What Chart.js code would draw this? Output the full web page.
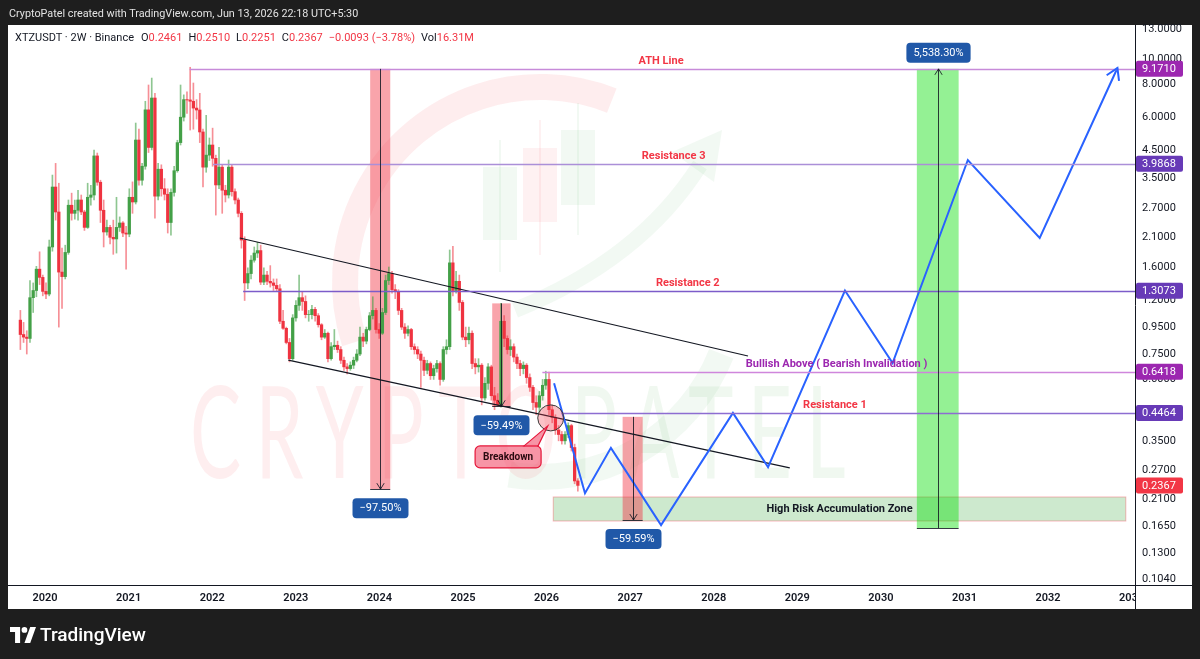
<!DOCTYPE html>
<html>
<head>
<meta charset="utf-8">
<script src="https://cdn.jsdelivr.net/npm/chart.js@4.4.1/dist/chart.umd.min.js"></script>
<style>
  html, body { margin: 0; padding: 0; background: #1e1e1e; }
  #wrap { position: relative; width: 1200px; height: 659px; overflow: hidden; font-family: Roboto, "Noto Sans", sans-serif; }
  #panel { position: absolute; left: 8px; top: 25px; width: 1184px; height: 584px; background: #fff; }
  #chart { position: absolute; left: 0; top: 0; }
  #credit { position: absolute; left: 9px; top: 7px; color: #e3e3e3; font-size: 10.8px; }
  #legend { position: absolute; left: 15px; top: 31px; font-size: 11px; color: #131722; white-space: nowrap; }
  #legend .v { color: #f23645; }
  #legend .g { margin-left: 6px; }
  #brand { position: absolute; left: 10px; top: 623px; color: #fff; font-size: 19px; font-weight: 500; display: flex; align-items: center; }
  #brand svg { margin-right: 4px; }
</style>
</head>
<body>
<div id="wrap">
  <div id="panel"></div>
  <canvas id="chart" width="1200" height="659"></canvas>
  <div id="credit">CryptoPatel created with TradingView.com, Jun 13, 2026 22:18 UTC+5:30</div>
  <div id="legend">XTZUSDT · 2W · Binance<span class="g" style="margin-left:7px">O<span class="v">0.2461</span></span><span class="g">H<span class="v">0.2510</span></span><span class="g">L<span class="v">0.2251</span></span><span class="g">C<span class="v">0.2367</span></span><span class="g v">−0.0093 (−3.78%)</span><span class="g">Vol<span class="v">16.31M</span></span></div>
  <div id="brand"><svg width="26" height="16" viewBox="0 0 36 22"><path d="M14 22H7V7H0V0h14v22zM28 22h-8L28 0h8L28 22z" fill="#fff"/><circle cx="20" cy="4" r="4" fill="#fff"/></svg>TradingView</div>
</div>
<script>
// XTZUSDT 2W candles (first bar ~ Sep 2019)
const firstOpen = 1.01;
const closes = [0.89,0.87,0.86,1.23,1.31,1.58,1.47,1.30,1.27,1.92,
  3.25,2.61,1.54,1.48,1.83,2.77,2.58,2.65,2.90,2.61,
  2.28,2.97,3.03,4.27,3.39,2.65,2.19,2.28,2.09,2.06,
  2.28,2.37,2.17,2.15,2.97,2.85,4.91,3.45,3.90,6.40,
  4.60,7.10,3.00,3.80,3.20,3.05,2.38,3.10,3.75,4.80,
  6.00,7.00,6.98,6.90,6.50,6.39,5.27,3.87,4.30,4.70,
  4.18,3.31,3.87,3.16,3.03,3.87,3.12,2.90,2.58,2.04,
  1.40,1.52,1.71,1.82,1.86,1.41,1.50,1.42,1.40,1.37,
  1.33,1.00,0.94,0.83,0.72,1.03,1.15,1.23,1.19,1.06,
  1.06,1.11,1.05,0.97,0.87,0.90,0.72,0.80,0.81,0.78,
  0.71,0.67,0.66,0.68,0.71,0.75,0.87,0.84,0.93,1.05,
  1.10,0.93,0.90,1.08,1.43,1.52,1.32,1.30,1.10,0.95,
  0.90,0.93,0.80,0.78,0.75,0.71,0.65,0.69,0.62,0.66,
  0.69,0.60,0.78,0.80,1.67,1.31,1.42,1.18,0.87,0.85,
  0.90,0.69,0.67,0.68,0.51,0.58,0.67,0.52,0.50,0.48,
  1.00,0.86,0.78,0.80,0.73,0.69,0.66,0.68,0.61,0.56,
  0.49,0.47,0.52,0.57,0.60,0.46,0.43,0.385,0.37,0.35,
  0.37,0.40,0.33,0.2461,0.2367];
const highs = [1.10,0.99,0.92,1.43,1.40,1.62,1.84,1.50,1.40,2.04,
  3.61,4.00,3.36,1.90,1.95,2.90,3.08,2.90,3.16,3.03,
  2.65,3.36,3.30,4.50,4.38,3.45,2.90,2.43,2.32,2.43,
  2.97,2.50,2.40,2.30,3.20,3.40,5.70,5.40,4.00,6.90,
  7.96,8.46,7.40,4.00,3.95,3.50,3.20,3.20,3.90,4.90,
  7.96,7.30,7.50,9.30,8.10,7.00,7.40,5.40,6.10,5.00,
  5.45,4.30,4.60,3.95,3.30,4.12,3.95,3.20,2.95,2.62,
  2.10,1.60,1.78,1.92,2.00,1.95,1.60,1.55,1.63,1.45,
  1.45,1.38,1.10,0.95,0.86,1.06,1.20,1.50,1.30,1.25,
  1.10,1.15,1.13,1.07,0.98,0.93,0.91,0.83,0.93,0.84,
  0.80,0.73,0.69,0.70,0.73,0.78,0.95,0.90,0.95,1.08,
  1.24,1.12,0.98,1.12,1.50,1.61,1.55,1.38,1.32,1.12,
  0.98,0.96,0.94,0.82,0.80,0.77,0.73,0.71,0.70,0.68,
  0.71,0.70,0.80,0.85,1.87,1.93,1.55,1.50,1.20,0.95,
  0.95,0.92,0.72,0.72,0.69,0.61,0.69,0.68,0.56,0.53,
  1.17,1.05,0.88,0.85,0.82,0.75,0.71,0.70,0.69,0.63,
  0.57,0.52,0.54,0.60,0.645,0.64,0.48,0.44,0.40,0.38,
  0.38,0.41,0.405,0.34,0.2510];
const lows = [0.78,0.83,0.75,0.83,1.08,1.24,1.38,1.25,1.22,1.25,
  1.85,2.43,0.95,1.12,1.45,1.80,2.43,2.45,2.43,2.55,
  2.22,2.26,2.77,2.90,3.30,2.38,1.92,2.13,1.97,1.80,
  1.82,2.20,2.10,1.58,2.10,2.58,2.80,3.30,3.30,3.80,
  4.40,4.50,2.47,2.90,3.00,2.90,2.17,2.13,3.00,3.70,
  4.70,5.80,6.20,5.36,5.40,5.90,4.80,3.25,3.70,4.10,
  3.90,2.54,3.20,2.58,2.85,2.95,3.00,2.80,2.50,1.90,
  1.20,1.33,1.45,1.68,1.75,1.38,1.38,1.38,1.35,1.31,
  1.30,0.98,0.93,0.82,0.70,0.71,1.00,1.10,1.10,1.03,
  1.00,1.02,1.00,0.95,0.85,0.86,0.70,0.71,0.78,0.76,
  0.69,0.65,0.63,0.65,0.66,0.70,0.74,0.80,0.82,0.92,
  1.02,0.90,0.86,0.89,1.06,1.38,1.28,1.22,1.06,0.93,
  0.86,0.88,0.78,0.75,0.72,0.56,0.62,0.63,0.60,0.60,
  0.64,0.57,0.59,0.75,0.78,1.25,1.28,1.10,0.85,0.80,
  0.82,0.66,0.63,0.64,0.48,0.50,0.55,0.50,0.46,0.475,
  0.47,0.80,0.75,0.74,0.70,0.66,0.62,0.63,0.58,0.54,
  0.46,0.44,0.45,0.50,0.55,0.44,0.41,0.37,0.35,0.34,
  0.34,0.36,0.32,0.24,0.2251];
const firstBarYear = 2019.705;
const barYears = 14 / 365.25;

// projected path (blue zig-zag)
const pathYears = [2026.09, 2026.46, 2026.77, 2027.37, 2028.23, 2028.65, 2029.57, 2030.14, 2031.04, 2031.90, 2032.83];
const pathPrices = [0.58, 0.221, 0.329, 0.167, 0.447, 0.278, 1.31, 0.693, 4.12, 2.08, 9.24];

// falling channel
const upperYears = [2022.33, 2028.41], upperPrices = [2.077, 0.737];
const lowerYears = [2022.91, 2028.91], lowerPrices = [0.711, 0.276];

// horizontal levels
const levelNames = ['ATH Line', 'Resistance 3', 'Resistance 2', 'Bullish Above ( Bearish Invalidation )', 'Resistance 1'];
const levelPrices = [9.171, 3.9868, 1.3073, 0.6418, 0.4464];
const levelFrom = [2021.73, 2022.01, 2022.37, 2025.95, 2026.18];
const levelCaptionAt = [2027.37, 2027.52, 2027.69, 2029.47, 2029.45];

// price range measurements
const rangeLabels = ['−97.50%', '−59.49%', '−59.59%', '5,538.30%'];
const rangeFromYear = [2023.89, 2025.35, 2026.91, 2030.43];
const rangeToYear = [2024.13, 2025.57, 2027.15, 2030.93];
const rangeFromPrice = [9.171, 1.17, 0.432, 0.1627];
const rangeToPrice = [0.229, 0.474, 0.1746, 9.171];

// accumulation zone
const zoneYears = [2026.08, 2032.93];
const zonePrices = [0.1731, 0.2138];
const zoneName = 'High Risk Accumulation Zone';

// breakdown marker
const breakYear = 2026.05, breakPrice = 0.428;
const calloutYear = 2025.54, calloutPrice = 0.304;

const lastPrice = 0.2367;
const yTicks = [13, 10, 8, 6, 4.5, 3.5, 2.7, 2.1, 1.6, 1.2, 0.95, 0.75, 0.6, 0.35, 0.27, 0.21, 0.165, 0.13, 0.104];
const yearTicks = [2020, 2021, 2022, 2023, 2024, 2025, 2026, 2027, 2028, 2029, 2030, 2031, 2032, 2033];

const ink = '#131722';
const up = '#43a047', down = '#ef3340';
const FONT = 'Roboto, "Noto Sans", sans-serif';
Chart.defaults.font.family = FONT;

const barX = closes.map((c, i) => firstBarYear + i * barYears);
const opens = closes.map((c, i) => i === 0 ? firstOpen : closes[i - 1]);
const isUp = closes.map((c, i) => c >= opens[i]);

function watermark(ctx) {
  ctx.save();
  ctx.lineWidth = 26;
  ctx.strokeStyle = 'rgba(242,54,69,0.09)';
  ctx.beginPath(); ctx.arc(540, 282, 195, Math.PI * 0.9, Math.PI * 1.62); ctx.stroke();
  ctx.strokeStyle = 'rgba(76,175,80,0.07)';
  ctx.beginPath(); ctx.arc(540, 282, 195, Math.PI * 0.12, Math.PI * 0.55); ctx.stroke();
  const wc = [[500, 167, 240, 140, 272, 'rgba(76,175,80,0.07)'], [540, 148, 222, 120, 255, 'rgba(242,54,69,0.07)'], [578, 130, 205, 103, 235, 'rgba(76,175,80,0.07)']];
  wc.forEach(c => {
    ctx.fillStyle = c[5];
    ctx.fillRect(c[0] - 17, c[1], 34, c[2] - c[1]);
    ctx.fillRect(c[0] - 1, c[3], 2, c[4] - c[3]);
  });
  ctx.strokeStyle = 'rgba(76,175,80,0.07)'; ctx.lineWidth = 16;
  ctx.beginPath(); ctx.moveTo(515, 310); ctx.quadraticCurveTo(640, 260, 700, 165); ctx.stroke();
  ctx.fillStyle = 'rgba(76,175,80,0.07)';
  ctx.beginPath(); ctx.moveTo(722, 130); ctx.lineTo(672, 152); ctx.lineTo(714, 182); ctx.closePath(); ctx.fill();
  ctx.font = '400 128px Lato';
  ctx.textBaseline = 'alphabetic';
  ctx.letterSpacing = '24px';
  const w1 = ctx.measureText('CRYPTO').width, w2 = ctx.measureText('PATEL').width;
  const sx = 670 / (w1 + w2);
  ctx.translate(190, 478); ctx.scale(sx, 1);
  ctx.fillStyle = 'rgba(242,54,69,0.085)';
  ctx.fillText('CRYPTO', 0, 0);
  ctx.fillStyle = 'rgba(76,175,80,0.085)';
  ctx.fillText('PATEL', w1, 0);
  ctx.restore();
}

function arrowHead(ctx, x, y, ang, len) {
  ctx.beginPath();
  ctx.moveTo(x - len * Math.cos(ang - 0.55), y - len * Math.sin(ang - 0.55));
  ctx.lineTo(x, y);
  ctx.lineTo(x - len * Math.cos(ang + 0.55), y - len * Math.sin(ang + 0.55));
  ctx.stroke();
}

function pill(ctx, cx, cy, text, bg, font) {
  ctx.font = font;
  const w = ctx.measureText(text).width + 14;
  ctx.fillStyle = bg;
  ctx.beginPath(); ctx.roundRect(cx - w / 2, cy - 10, w, 20, 4); ctx.fill();
  ctx.fillStyle = '#fff'; ctx.textAlign = 'center'; ctx.textBaseline = 'middle';
  ctx.fillText(text, cx, cy + 0.5);
}

const levelColors = ['#c78bd9', '#ab8fd8', '#7c5cc9', '#cf86dc', '#8d6dd1'];
const levelCaptionColors = ['#f23645', '#f23645', '#f23645', '#9c27b0', '#f23645'];
const tagColors = ['#9c27b0', '#673ab7', '#673ab7', '#9c27b0', '#673ab7'];

const drawings = {
  id: 'drawings',
  beforeDatasetsDraw(chart) {
    const { ctx, chartArea: a } = chart;
    const xs = chart.scales.x, ys = chart.scales.y;
    ctx.save();
    ctx.beginPath(); ctx.rect(a.left, a.top, a.right - a.left, a.bottom - a.top); ctx.clip();
    watermark(ctx);
    // zone
    const zx0 = xs.getPixelForValue(zoneYears[0]), zx1 = xs.getPixelForValue(zoneYears[1]);
    const zy0 = ys.getPixelForValue(zonePrices[1]), zy1 = ys.getPixelForValue(zonePrices[0]);
    ctx.fillStyle = 'rgba(76,175,80,0.28)';
    ctx.fillRect(zx0, zy0, zx1 - zx0, zy1 - zy0);
    ctx.strokeStyle = 'rgba(242,54,69,0.35)'; ctx.lineWidth = 1;
    ctx.strokeRect(zx0, zy0, zx1 - zx0, zy1 - zy0);
    // range columns
    rangeLabels.forEach((lab, i) => {
      const x0 = xs.getPixelForValue(rangeFromYear[i]), x1 = xs.getPixelForValue(rangeToYear[i]);
      const y0 = ys.getPixelForValue(Math.max(rangeFromPrice[i], rangeToPrice[i]));
      const y1 = ys.getPixelForValue(Math.min(rangeFromPrice[i], rangeToPrice[i]));
      ctx.fillStyle = rangeToPrice[i] < rangeFromPrice[i] ? 'rgba(242,54,69,0.45)' : 'rgba(0,222,0,0.42)';
      ctx.fillRect(x0, y0, x1 - x0, y1 - y0);
    });
    ctx.restore();
  },
  afterDatasetsDraw(chart) {
    const { ctx, chartArea: a } = chart;
    const xs = chart.scales.x, ys = chart.scales.y;
    ctx.save();
    ctx.beginPath(); ctx.rect(a.left, a.top, a.right - a.left, a.bottom - a.top); ctx.clip();
    // levels
    levelPrices.forEach((p, i) => {
      const yy = Math.round(ys.getPixelForValue(p)) + 0.5;
      ctx.strokeStyle = levelColors[i]; ctx.lineWidth = 1.3;
      ctx.beginPath(); ctx.moveTo(xs.getPixelForValue(levelFrom[i]), yy); ctx.lineTo(a.right, yy); ctx.stroke();
      ctx.fillStyle = levelCaptionColors[i];
      ctx.font = 'bold 11px ' + FONT; ctx.textAlign = 'center'; ctx.textBaseline = 'middle';
      ctx.fillText(levelNames[i], xs.getPixelForValue(levelCaptionAt[i]), yy - 8);
    });
    // zone caption
    ctx.fillStyle = ink; ctx.font = 'bold 11px ' + FONT; ctx.textAlign = 'center'; ctx.textBaseline = 'middle';
    ctx.fillText(zoneName, xs.getPixelForValue((zoneYears[0] + zoneYears[1]) / 2),
      (ys.getPixelForValue(zonePrices[0]) + ys.getPixelForValue(zonePrices[1])) / 2);
    // range arrows and labels
    rangeLabels.forEach((lab, i) => {
      const x0 = xs.getPixelForValue(rangeFromYear[i]), x1 = xs.getPixelForValue(rangeToYear[i]);
      const cx = Math.round((x0 + x1) / 2) + 0.5;
      const yf = ys.getPixelForValue(rangeFromPrice[i]), yt = ys.getPixelForValue(rangeToPrice[i]);
      const yb = Math.max(yf, yt), ytop = Math.min(yf, yt);
      ctx.strokeStyle = 'rgba(19,23,34,0.85)'; ctx.lineWidth = 1;
      ctx.beginPath(); ctx.moveTo(cx, yf); ctx.lineTo(cx, yt); ctx.stroke();
      arrowHead(ctx, cx, yt, yt > yf ? Math.PI / 2 : -Math.PI / 2, 7);
      ctx.beginPath(); ctx.moveTo(x0, Math.round(yb) + 0.5); ctx.lineTo(x1, Math.round(yb) + 0.5); ctx.stroke();
      const ly = yt > yf ? yb + 19 : ytop - 16;
      pill(ctx, cx, ly, lab, '#2058a8', '11px ' + FONT);
    });
    // breakdown circle and callout
    const bx = xs.getPixelForValue(breakYear), by = ys.getPixelForValue(breakPrice);
    const kx = xs.getPixelForValue(calloutYear), ky = ys.getPixelForValue(calloutPrice);
    ctx.fillStyle = 'rgba(242,54,69,0.3)'; ctx.strokeStyle = '#3a3a3a'; ctx.lineWidth = 1;
    ctx.beginPath(); ctx.arc(bx, by, 13, 0, Math.PI * 2); ctx.fill(); ctx.stroke();
    ctx.fillStyle = 'rgba(242,84,112,0.62)'; ctx.strokeStyle = '#e5173a'; ctx.lineWidth = 1.2;
    ctx.beginPath();
    ctx.roundRect(kx - 33, ky - 11, 66, 22, 5);
    ctx.fill(); ctx.stroke();
    ctx.beginPath(); ctx.moveTo(kx + 16, ky - 11); ctx.lineTo(bx - 3, by + 8); ctx.lineTo(kx + 30, ky - 11); ctx.closePath();
    ctx.fill(); ctx.stroke();
    ctx.fillStyle = 'rgba(242,84,112,0.62)';
    ctx.fillRect(kx + 17, ky - 12, 12, 2);
    ctx.fillStyle = '#2a0a10'; ctx.font = 'bold 10px ' + FONT; ctx.textAlign = 'center'; ctx.textBaseline = 'middle';
    ctx.fillText('Breakdown', kx, ky + 0.5);
    // arrow tip of projected path
    const n = pathYears.length;
    const px1 = xs.getPixelForValue(pathYears[n - 1]), py1 = ys.getPixelForValue(pathPrices[n - 1]);
    const px0 = xs.getPixelForValue(pathYears[n - 2]), py0 = ys.getPixelForValue(pathPrices[n - 2]);
    ctx.strokeStyle = '#2962ff'; ctx.lineWidth = 2;
    arrowHead(ctx, px1, py1, Math.atan2(py1 - py0, px1 - px0), 13);
    ctx.restore();
  },
  afterDraw(chart) {
    const { ctx, chartArea: a } = chart;
    const ys = chart.scales.y;
    ctx.save();
    // clip the overflowing last year label like the price pane does
    ctx.fillStyle = '#fff';
    ctx.fillRect(a.right + 1, a.bottom + 1, 56, 23);
    ctx.strokeStyle = ink; ctx.lineWidth = 1;
    ctx.beginPath(); ctx.moveTo(a.right + 0.5, a.bottom); ctx.lineTo(a.right + 0.5, a.bottom + 24); ctx.stroke();
    ctx.beginPath(); ctx.moveTo(a.right, a.bottom + 0.5); ctx.lineTo(a.right + 57, a.bottom + 0.5); ctx.stroke();
    const tag = (v, bg) => {
      const yy = ys.getPixelForValue(v);
      ctx.fillStyle = bg;
      ctx.beginPath(); ctx.roundRect(a.right + 1, yy - 8, 47, 16, 2); ctx.fill();
      ctx.fillStyle = '#fff'; ctx.font = '11px ' + FONT; ctx.textAlign = 'left'; ctx.textBaseline = 'middle';
      ctx.fillText(v.toFixed(4), a.right + 7, yy + 0.5);
    };
    levelPrices.forEach((p, i) => tag(p, tagColors[i]));
    tag(lastPrice, '#f23645');
    ctx.restore();
  }
};

new Chart(document.getElementById('chart'), {
  type: 'bar',
  data: {
    datasets: [
      {
        type: 'line', order: 0,
        data: pathYears.map((t, i) => ({ x: t, y: pathPrices[i] })),
        borderColor: '#2962ff', borderWidth: 2, pointRadius: 0, fill: false, tension: 0
      },
      {
        type: 'line', order: 0,
        data: upperYears.map((t, i) => ({ x: t, y: upperPrices[i] })),
        borderColor: ink, borderWidth: 1.2, pointRadius: 0, fill: false
      },
      {
        type: 'line', order: 0,
        data: lowerYears.map((t, i) => ({ x: t, y: lowerPrices[i] })),
        borderColor: ink, borderWidth: 1.2, pointRadius: 0, fill: false
      },
      {
        order: 1, grouped: false, barThickness: 2.6,
        data: barX.map((t, i) => ({ x: t, y: [opens[i], closes[i]] })),
        backgroundColor: isUp.map(u => u ? up : down), borderWidth: 0
      },
      {
        order: 2, grouped: false, barThickness: 1,
        data: barX.map((t, i) => ({ x: t, y: [lows[i], highs[i]] })),
        backgroundColor: isUp.map(u => u ? 'rgba(67,160,71,0.6)' : 'rgba(239,51,64,0.55)'), borderWidth: 0
      }
    ]
  },
  options: {
    responsive: false,
    animation: false,
    events: [],
    layout: { padding: { left: 8, top: 25, right: 8, bottom: 50 } },
    plugins: { legend: { display: false }, tooltip: { enabled: false } },
    scales: {
      x: {
        type: 'linear', min: 2019.557, max: 2033.04, offset: false, bounds: 'data',
        grid: { display: false, drawTicks: false },
        border: { display: true, color: ink, width: 1 },
        ticks: { color: ink, font: { size: 11, weight: '600' }, padding: 7, maxRotation: 0, autoSkip: false, callback: v => String(v) },
        afterBuildTicks: s => { s.ticks = yearTicks.map(v => ({ value: v })); },
        afterFit: s => { s.height = 24; }
      },
      y: {
        type: 'logarithmic', position: 'right', min: 0.0987, max: 13.48, bounds: 'data',
        grid: { display: false, drawTicks: false },
        border: { display: true, color: ink, width: 1 },
        ticks: { color: ink, font: { size: 11 }, padding: 7, autoSkip: false, callback: v => Number(v).toFixed(4) },
        afterBuildTicks: s => { s.ticks = yTicks.map(v => ({ value: v })); },
        afterFit: s => { s.width = 57; }
      }
    }
  },
  plugins: [drawings]
});
</script>
</body>
</html>
